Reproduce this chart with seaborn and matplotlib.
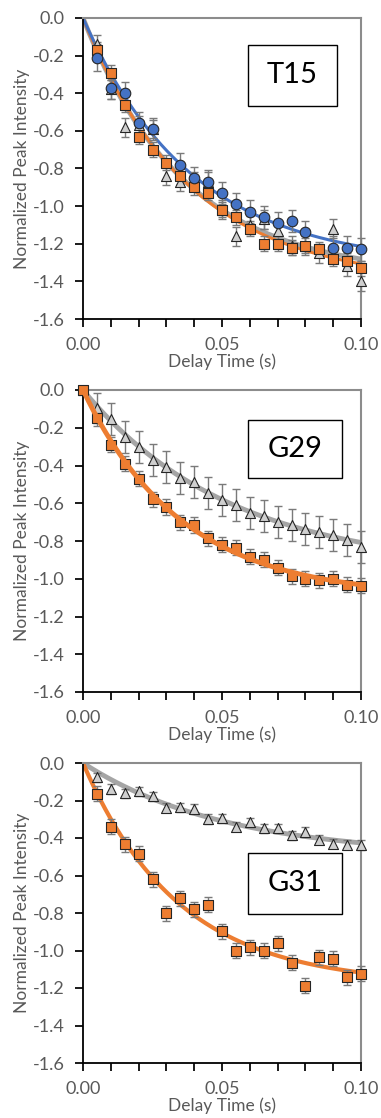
import numpy as np
import pandas as pd
import matplotlib
matplotlib.use("Agg")
import matplotlib.pyplot as plt
import seaborn as sns
from matplotlib.patches import Rectangle

nan = np.nan

# ---------------- data ----------------
delay = [0.005, 0.010, 0.015, 0.020, 0.025, 0.030, 0.035, 0.040, 0.045, 0.050,
         0.055, 0.060, 0.065, 0.070, 0.075, 0.080, 0.085, 0.090, 0.095, 0.100]
delay0 = [0.000] + delay

# T15
t15_blue = [-0.21, -0.37, -0.40, -0.56, -0.59, nan, -0.78, -0.85, -0.87, -0.93,
            -0.99, -1.03, -1.06, -1.09, -1.08, -1.14, nan, -1.22, -1.22, -1.23]
t15_blue_err = [0.07, 0.06, 0.06, 0.06, 0.06, nan, 0.06, 0.06, 0.06, 0.06,
                0.06, 0.06, 0.06, 0.06, 0.06, 0.06, nan, 0.06, 0.06, 0.06]
t15_orange = [-0.17, -0.29, -0.46, -0.63, -0.70, -0.77, -0.84, -0.90, -0.93, -1.02,
              -1.06, -1.12, -1.20, -1.20, -1.22, -1.21, -1.23, -1.28, -1.29, -1.33]
t15_orange_err = [0.04, 0.04, 0.04, 0.04, 0.04, 0.04, 0.04, 0.04, 0.04, 0.04,
                  0.04, 0.04, 0.04, 0.04, 0.04, 0.04, 0.04, 0.04, 0.04, 0.04]
t15_gray = [-0.14, -0.38, -0.58, -0.57, -0.59, -0.84, -0.87, -0.87, -0.87, -1.02,
            -1.16, -1.10, -1.07, -1.13, -1.21, -1.21, -1.25, -1.12, -1.32, -1.40]
t15_gray_err = [0.05, 0.05, 0.05, 0.05, 0.05, 0.05, 0.05, 0.05, 0.05, 0.05,
                0.05, 0.05, 0.05, 0.05, 0.05, 0.05, 0.05, 0.05, 0.05, 0.05]

# G29
g29_orange = [0.0, -0.15, -0.29, -0.39, -0.47, -0.58, -0.62, -0.70, -0.715, -0.785, -0.82,
              -0.835, -0.883, -0.90, -0.942, -0.987, -1.00, -1.008, -1.00, -1.032, -1.036]
g29_orange_err = [0.0, 0.04, 0.04, 0.04, 0.04, 0.04, 0.04, 0.04, 0.04, 0.04, 0.04,
                  0.04, 0.04, 0.04, 0.04, 0.04, 0.04, 0.04, 0.04, 0.04, 0.04]
g29_gray = [0.0, -0.097, -0.155, -0.247, -0.30, -0.37, -0.41, -0.465, -0.486, -0.548, -0.583,
            -0.608, -0.65, -0.668, -0.697, -0.715, -0.738, -0.75, -0.768, -0.795, -0.834]
g29_gray_err = [0.0, 0.08, 0.085, 0.085, 0.085, 0.085, 0.085, 0.085, 0.085, 0.085, 0.085,
                0.085, 0.085, 0.085, 0.085, 0.085, 0.085, 0.085, 0.085, 0.085, 0.085]

# G31
g31_orange = [-0.163, -0.34, -0.433, -0.483, -0.62, -0.80, -0.72, -0.78, -0.757, -0.896,
              -1.00, -0.982, -1.00, -0.961, -1.064, -1.188, -1.036, -1.045, -1.142, -1.124]
g31_orange_err = [0.04, 0.04, 0.04, 0.04, 0.04, 0.04, 0.04, 0.04, 0.04, 0.04,
                  0.04, 0.04, 0.04, 0.04, 0.04, 0.04, 0.04, 0.04, 0.04, 0.04]
g31_gray = [-0.077, -0.139, -0.162, -0.151, -0.178, -0.238, -0.237, -0.245, -0.298, -0.295,
            -0.34, -0.317, -0.349, -0.349, -0.385, -0.368, -0.409, -0.43, -0.436, -0.438]
g31_gray_err = [0.025, 0.025, 0.025, 0.025, 0.025, 0.025, 0.025, 0.025, 0.025, 0.025,
                0.025, 0.025, 0.025, 0.025, 0.025, 0.025, 0.025, 0.025, 0.025, 0.025]

panel_labels = ["T15", "G29", "G31"]
x_tick_labels = ["0.00", "0.05", "0.10"]
y_ticks = [0.0, -0.2, -0.4, -0.6, -0.8, -1.0, -1.2, -1.4, -1.6]

BLUE = "#4472C4"
ORANGE = "#ED7D31"
GRAY_LINE = "#A5A5A5"
TRI_FILL = "#CFCFCF"

sns.set_theme(style="ticks")
plt.rcParams["font.family"] = ["Lato", "DejaVu Sans"]
TXT = "#595959"


def exp_fit(x, y):
    """least-squares fit of y = A*(exp(-k x) - 1) to the data (with origin)."""
    x = np.asarray(x, float)
    y = np.asarray(y, float)
    m = ~np.isnan(y)
    x, y = np.r_[0.0, x[m]], np.r_[0.0, y[m]]
    best = None
    for k in np.linspace(0.5, 80, 1600):
        f = np.exp(-k * x) - 1
        A = np.sum(f * y) / np.sum(f * f)
        sse = np.sum((A * f - y) ** 2)
        if best is None or sse < best[0]:
            best = (sse, A, k)
    _, A, k = best
    tt = np.linspace(0, 0.1, 200)
    return tt, A * (np.exp(-k * tt) - 1)


fig = plt.figure(figsize=(3.81, 11.18), dpi=100)
left, width = 83 / 381, 278 / 381
rects = [(1 - 319 / 1118, 301 / 1118), (1 - 692 / 1118, 302 / 1118), (1 - 1063 / 1118, 300 / 1118)]
axes = [fig.add_axes([left, b, width, h]) for b, h in rects]

boxes = [(0.594, 0.708, 0.32, 0.202), (0.594, 0.709, 0.338, 0.191), (0.594, 0.497, 0.338, 0.203)]


def draw_series(ax, x, y, err, marker, fill, line_color, lw, line_on_top=False, ms=52):
    tt, ff = exp_fit(x, y)
    sns.lineplot(x=tt, y=ff, ax=ax, color=line_color, lw=lw, zorder=6 if line_on_top else 2,
                 solid_capstyle="round")
    eb = ax.errorbar(x, y, yerr=err, fmt="none", ecolor="#7a7a7a", elinewidth=1.0,
                     capsize=3, capthick=1.0, zorder=3)
    for art in list(eb.lines[1]) + list(eb.lines[2]):
        art.set_clip_on(False)
    sns.scatterplot(x=x, y=y, ax=ax, marker=marker, s=ms, color=fill,
                    edgecolor="#262626", linewidth=0.8, zorder=5, clip_on=False)


# Panel T15
ax = axes[0]
draw_series(ax, delay, t15_gray, t15_gray_err, "^", TRI_FILL, GRAY_LINE, 3.5)
draw_series(ax, delay, t15_orange, t15_orange_err, "s", ORANGE, ORANGE, 2.2)
draw_series(ax, delay, t15_blue, t15_blue_err, "o", BLUE, BLUE, 2.2, ms=58)

# Panel G29
ax = axes[1]
draw_series(ax, delay0, g29_gray, g29_gray_err, "^", TRI_FILL, GRAY_LINE, 3.5)
draw_series(ax, delay0, g29_orange, g29_orange_err, "s", ORANGE, ORANGE, 3.5, line_on_top=True)

# Panel G31
ax = axes[2]
draw_series(ax, delay, g31_gray, g31_gray_err, "^", TRI_FILL, GRAY_LINE, 3.5)
draw_series(ax, delay, g31_orange, g31_orange_err, "s", ORANGE, ORANGE, 3.0)

xt_all = [round(0.01 * i, 2) for i in range(11)]
lab_map = {0.0: x_tick_labels[0], 0.05: x_tick_labels[1], 0.1: x_tick_labels[2]}

for ax, lab, (bx, by, bw, bh) in zip(axes, panel_labels, boxes):
    ax.set_xlim(0, 0.1)
    ax.set_ylim(-1.6, 0.0)
    ax.set_xticks(xt_all)
    ax.set_xticklabels([lab_map.get(v, "") for v in xt_all])
    ax.set_yticks(y_ticks)
    ax.set_yticklabels([("0.0" if v == 0 else f"{v:.1f}") for v in y_ticks])
    ax.spines["left"].set_color("#000000")
    ax.spines["bottom"].set_color("#000000")
    ax.spines["left"].set_linewidth(1.3)
    ax.spines["bottom"].set_linewidth(1.3)
    ax.spines["top"].set_color("#8c8c8c")
    ax.spines["right"].set_color("#8c8c8c")
    ax.spines["top"].set_linewidth(1.5)
    ax.spines["right"].set_linewidth(1.5)
    ax.set_xlabel("Delay Time (s)", fontsize=12.5, color=TXT, labelpad=0)
    ax.set_ylabel("Normalized Peak Intensity", fontsize=12.5, color=TXT, labelpad=2)
    ax.add_patch(Rectangle((bx, by), bw, bh, transform=ax.transAxes, fill=True,
                           facecolor="white", edgecolor="black", lw=1.0, zorder=9))
    ax.text(bx + bw / 2, by + bh / 2, lab, transform=ax.transAxes, ha="center",
            va="center", fontsize=21, color="black", zorder=10)
    ax.tick_params(axis="both", direction="out", length=6, width=1.4, colors="#1a1a1a",
                   left=True, bottom=True, pad=7, labelsize=13, labelcolor=TXT)

fig.savefig("out.png", dpi=100, facecolor="white")
